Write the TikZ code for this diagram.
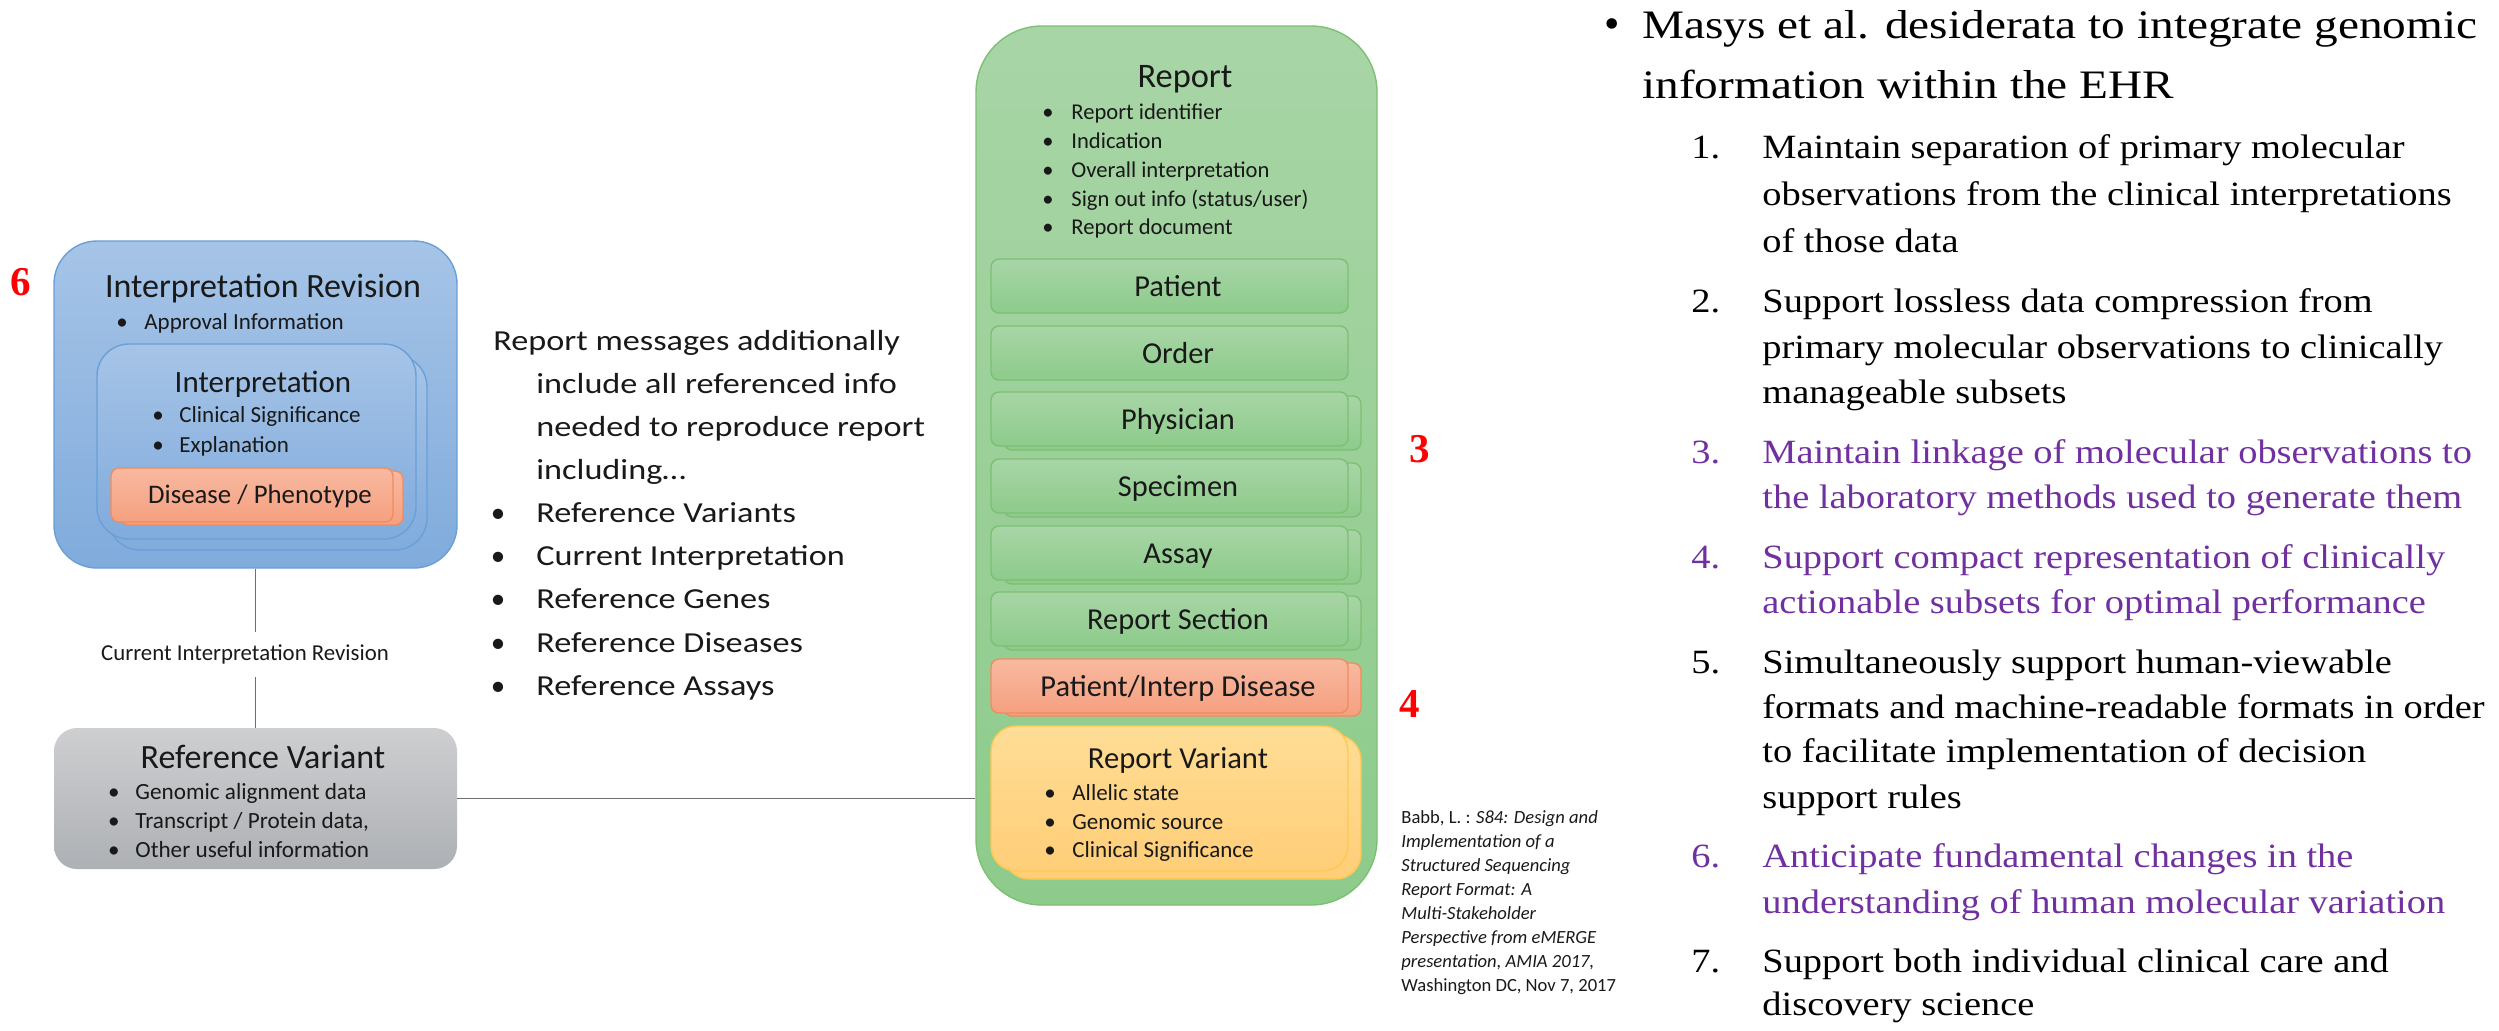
\documentclass[tikz,border=0pt]{standalone}
\usepackage{fontspec}
\setmainfont{Carlito}
\newfontfamily\garafont[FakeStretch=1.13]{Liberation Serif}
\newfontfamily\garabig[FakeStretch=1.17]{Liberation Serif}
\newfontfamily\numfont{Liberation Serif}
\newfontfamily\midfont[FakeStretch=1.18]{Carlito}
\usetikzlibrary{fit}
\definecolor{blueTop}{RGB}{166,196,231}
\definecolor{blueBot}{RGB}{128,171,220}
\definecolor{blueLine}{RGB}{105,160,215}
\definecolor{greenTop}{RGB}{168,213,166}
\definecolor{greenBot}{RGB}{141,203,139}
\definecolor{greenLine}{RGB}{125,192,115}
\definecolor{orTop}{RGB}{248,185,160}
\definecolor{orBot}{RGB}{245,160,128}
\definecolor{orLine}{RGB}{240,140,95}
\definecolor{yeTop}{RGB}{255,221,150}
\definecolor{yeBot}{RGB}{255,206,120}
\definecolor{yeLine}{RGB}{255,200,80}
\definecolor{grTop}{RGB}{206,207,209}
\definecolor{grBot}{RGB}{173,176,180}
\definecolor{txtc}{RGB}{25,25,25}
\definecolor{purp}{RGB}{112,48,160}
\definecolor{conn}{RGB}{110,110,110}
\newcommand\fsz[1]{\fontsize{#1}{#1}\selectfont}
\begin{document}
\begin{tikzpicture}[x=0.5pt,y=-0.5pt,
  box/.style={inner sep=0pt, draw, line width=0.7pt},
  bluebox/.style={box, draw=blueLine, top color=blueTop, bottom color=blueBot},
  greenbox/.style={box, draw=greenLine, top color=greenTop, bottom color=greenBot, rounded corners=4pt},
  orbox/.style={box, draw=orLine, top color=orTop, bottom color=orBot, rounded corners=4pt},
  yebox/.style={box, draw=yeLine, top color=yeTop, bottom color=yeBot, rounded corners=12.5pt},
  greybox/.style={inner sep=0pt, top color=grTop, bottom color=grBot, rounded corners=11.5pt},
  tx/.style={inner sep=0pt, anchor=base west, text=txtc},
  tc/.style={inner sep=0pt, anchor=base, text=txtc},
  bt/.style={inner sep=0pt, anchor=base, text=txtc},
  midtx/.style={tx, font=\midfont\fsz{14.5pt}},
  midbt/.style={bt, font=\fsz{14.5pt}},
  rednum/.style={inner sep=0pt, anchor=base, text=red, font=\numfont\bfseries\fsz{20.5pt}},
  rt/.style={inner sep=0pt, anchor=base west, font=\garafont\fsz{17pt}},
  conline/.style={draw=conn, line width=0.65pt}
]
\useasboundingbox (0,0) rectangle (2499,1030);

% ---------- Interpretation Revision ----------
\node[bluebox, rounded corners=21.5pt, fit={(54,241) (457,568)}] (irev) {};
\node[tc, font=\fsz{17pt}] (irevT) at (263,297) {Interpretation Revision};
\node[bt, font=\fsz{11.5pt}] (irevB1) at (122,329) {\textbullet};
\node[tx, font=\fsz{11.5pt}] (irevL1) at (144,329) {Approval Information};
\node[bluebox, rounded corners=16pt, fit={(108,355) (427,550)}] (interpS) {};
\node[bluebox, rounded corners=16pt, fit={(97,344) (416,539)}] (interp) {};
\node[tc, font=\fsz{15.5pt}] (interpT) at (263,392) {Interpretation};
\node[bt, font=\fsz{11.5pt}] (interpB1) at (158,422) {\textbullet};
\node[tx, font=\fsz{11.5pt}] (interpL1) at (179,422) {Clinical Significance};
\node[bt, font=\fsz{11.5pt}] (interpB2) at (158,452) {\textbullet};
\node[tx, font=\fsz{11.5pt}] (interpL2) at (179,452) {Explanation};
\node[orbox, fit={(121,471) (403,525)}] (disS) {};
\node[orbox, fit={(111,468) (393,522)}] (dis) {};
\node[tc, font=\fsz{13.4pt}] (disT) at (260,503) {Disease / Phenotype};
\node[rednum] (n6) at (21,295) {6};

% ---------- connector label ----------
\node[inner sep=0pt, minimum height=22.5pt, text=txtc, font=\fsz{11.4pt}] (cir) at (245,654.5) {Current Interpretation Revision};

% ---------- Reference Variant ----------
\node[greybox, fit={(54,728) (457,869)}] (refvar) {};
\node[tc, font=\fsz{17pt}] (refvarT) at (263,768) {Reference Variant};
\node[bt, font=\fsz{11.6pt}] (rvB1) at (114,799) {\textbullet};
\node[tx, font=\fsz{11.6pt}] (rvL1) at (135,799) {Genomic alignment data};
\node[bt, font=\fsz{11.6pt}] (rvB2) at (114,828) {\textbullet};
\node[tx, font=\fsz{11.6pt}] (rvL2) at (135,828) {Transcript / Protein data,};
\node[bt, font=\fsz{11.6pt}] (rvB3) at (114,857) {\textbullet};
\node[tx, font=\fsz{11.6pt}] (rvL3) at (135,857) {Other useful information};

% ---------- middle text ----------
\node[midtx] (m0) at (493,350) {Report messages additionally};
\node[midtx] (m1) at (536,393) {include all referenced info};
\node[midtx] (m2) at (536,436) {needed to reproduce report};
\node[midtx] (m3) at (536,479) {including…};
\node[midbt] (mb1) at (498,522) {\textbullet};
\node[midtx] (ml1) at (536,522) {Reference Variants};
\node[midbt] (mb2) at (498,565) {\textbullet};
\node[midtx] (ml2) at (536,565) {Current Interpretation};
\node[midbt] (mb3) at (498,608) {\textbullet};
\node[midtx] (ml3) at (536,608) {Reference Genes};
\node[midbt] (mb4) at (498,652) {\textbullet};
\node[midtx] (ml4) at (536,652) {Reference Diseases};
\node[midbt] (mb5) at (498,695) {\textbullet};
\node[midtx] (ml5) at (536,695) {Reference Assays};

% ---------- Report ----------
\node[greenbox, rounded corners=33pt, fit={(976,26) (1377,905)}] (report) {};
\node[tc, font=\fsz{17.2pt}] (reportT) at (1185,87) {Report};
\foreach \y/\t [count=\i] in {119/{Report identifier},148/{Indication},177/{Overall interpretation},206/{Sign out info (status/user)},234/{Report document}}{
  \node[bt, font=\fsz{11.3pt}] (repB\i) at (1048,\y) {\textbullet};
  \node[tx, font=\fsz{11.3pt}] (repL\i) at (1071,\y) {\t};
}
% single sub boxes
\node[greenbox, fit={(991,259) (1348,313)}] (patient) {};
\node[tc, font=\fsz{15.2pt}] (patientT) at (1178,296) {Patient};
\node[greenbox, fit={(991,326) (1348,380)}] (order) {};
\node[tc, font=\fsz{15.2pt}] (orderT) at (1178,363) {Order};
% stacked sub boxes
\foreach \top/\nm/\t in {392/phys/Physician,459/spec/Specimen,526/assay/Assay,592/rsec/{Report Section}}{
  \node[greenbox, fit={(1004,\top+4) (1361,\top+58)}] (\nm S) {};
  \node[greenbox, fit={(991,\top) (1348,\top+54)}] (\nm) {};
  \node[tc, font=\fsz{15.2pt}] (\nm T) at (1178,\top+37) {\t};
}
\node[orbox, fit={(1004,663) (1361,716)}] (pidS) {};
\node[orbox, fit={(991,659) (1348,713)}] (pid) {};
\node[tc, font=\fsz{15.2pt}] (pidT) at (1178,696) {Patient/Interp Disease};
\node[yebox, fit={(1004,735) (1361,879)}] (rvarS) {};
\node[yebox, fit={(991,726) (1348,871)}] (rvar) {};
\node[tc, font=\fsz{15.3pt}] (rvarT) at (1178,768) {Report Variant};
\node[bt, font=\fsz{11.5pt}] (rvarB1) at (1050,800) {\textbullet};
\node[tx, font=\fsz{11.5pt}] (rvarL1) at (1072,800) {Allelic state};
\node[bt, font=\fsz{11.5pt}] (rvarB2) at (1050,829) {\textbullet};
\node[tx, font=\fsz{11.5pt}] (rvarL2) at (1072,829) {Genomic source};
\node[bt, font=\fsz{11.5pt}] (rvarB3) at (1050,857) {\textbullet};
\node[tx, font=\fsz{11.5pt}] (rvarL3) at (1072,857) {Clinical Significance};

\node[rednum] (n3) at (1420,462) {3};
\node[rednum] (n4) at (1410,717) {4};

% ---------- connectors ----------
\draw[conline] (irev.south) -- (irev.south |- cir.north);
\draw[conline] (irev.south |- cir.south) -- (refvar.north -| irev.south);
\draw[conline] (refvar.east) -- (refvar.east -| report.west);

% ---------- citation ----------
\begin{scope}[every node/.style={tx, font=\fsz{9.3pt}}]
\node (c1) at (1401,823) {Babb, L. : \textit{S84: Design and}};
\node (c2) at (1401,847) {\textit{Implementation of a}};
\node (c3) at (1401,871) {\textit{Structured Sequencing}};
\node (c4) at (1401,895) {\textit{Report Format: A}};
\node (c5) at (1401,919) {\textit{Multi-Stakeholder}};
\node (c6) at (1401,943) {\textit{Perspective from eMERGE}};
\node (c7) at (1401,967) {\textit{presentation, AMIA 2017,}};
\node (c8) at (1401,991) {Washington DC, Nov 7, 2017};
\end{scope}

% ---------- right text ----------
\node[inner sep=0pt, anchor=base, font=\numfont\fsz{22pt}] (mb) at (1612,38) {•};
\node[rt, font=\garabig\fsz{20.2pt}] (ma) at (1642,38) {Masys et al. desiderata to integrate genomic};
\node[rt, font=\garabig\fsz{20.2pt}] (mbb) at (1642,98) {information within the EHR};

\node[rt] (i1n) at (1691,158) {1.};
\node[rt] (i1a) at (1762,158) {Maintain separation of primary molecular};
\node[rt] (i1b) at (1762,205) {observations from the clinical interpretations};
\node[rt] (i1c) at (1762,252) {of those data};

\node[rt] (i2n) at (1691,312) {2.};
\node[rt] (i2a) at (1762,312) {Support lossless data compression from};
\node[rt] (i2b) at (1762,358) {primary molecular observations to clinically};
\node[rt] (i2c) at (1762,403) {manageable subsets};

\node[rt, text=purp] (i3n) at (1691,463) {3.};
\node[rt, text=purp] (i3a) at (1762,463) {Maintain linkage of molecular observations to};
\node[rt, text=purp] (i3b) at (1762,508) {the laboratory methods used to generate them};

\node[rt, text=purp] (i4n) at (1691,568) {4.};
\node[rt, text=purp] (i4a) at (1762,568) {Support compact representation of clinically};
\node[rt, text=purp] (i4b) at (1762,613) {actionable subsets for optimal performance};

\node[rt] (i5n) at (1691,673) {5.};
\node[rt] (i5a) at (1762,673) {Simultaneously support human-viewable};
\node[rt] (i5b) at (1762,718) {formats and machine-readable formats in order};
\node[rt] (i5c) at (1762,762) {to facilitate implementation of decision};
\node[rt] (i5d) at (1762,808) {support rules};

\node[rt, text=purp] (i6n) at (1691,867) {6.};
\node[rt, text=purp] (i6a) at (1762,867) {Anticipate fundamental changes in the};
\node[rt, text=purp] (i6b) at (1762,913) {understanding of human molecular variation};

\node[rt] (i7n) at (1691,972) {7.};
\node[rt] (i7a) at (1762,972) {Support both individual clinical care and};
\node[rt] (i7b) at (1762,1015) {discovery science};
\end{tikzpicture}
\end{document}
